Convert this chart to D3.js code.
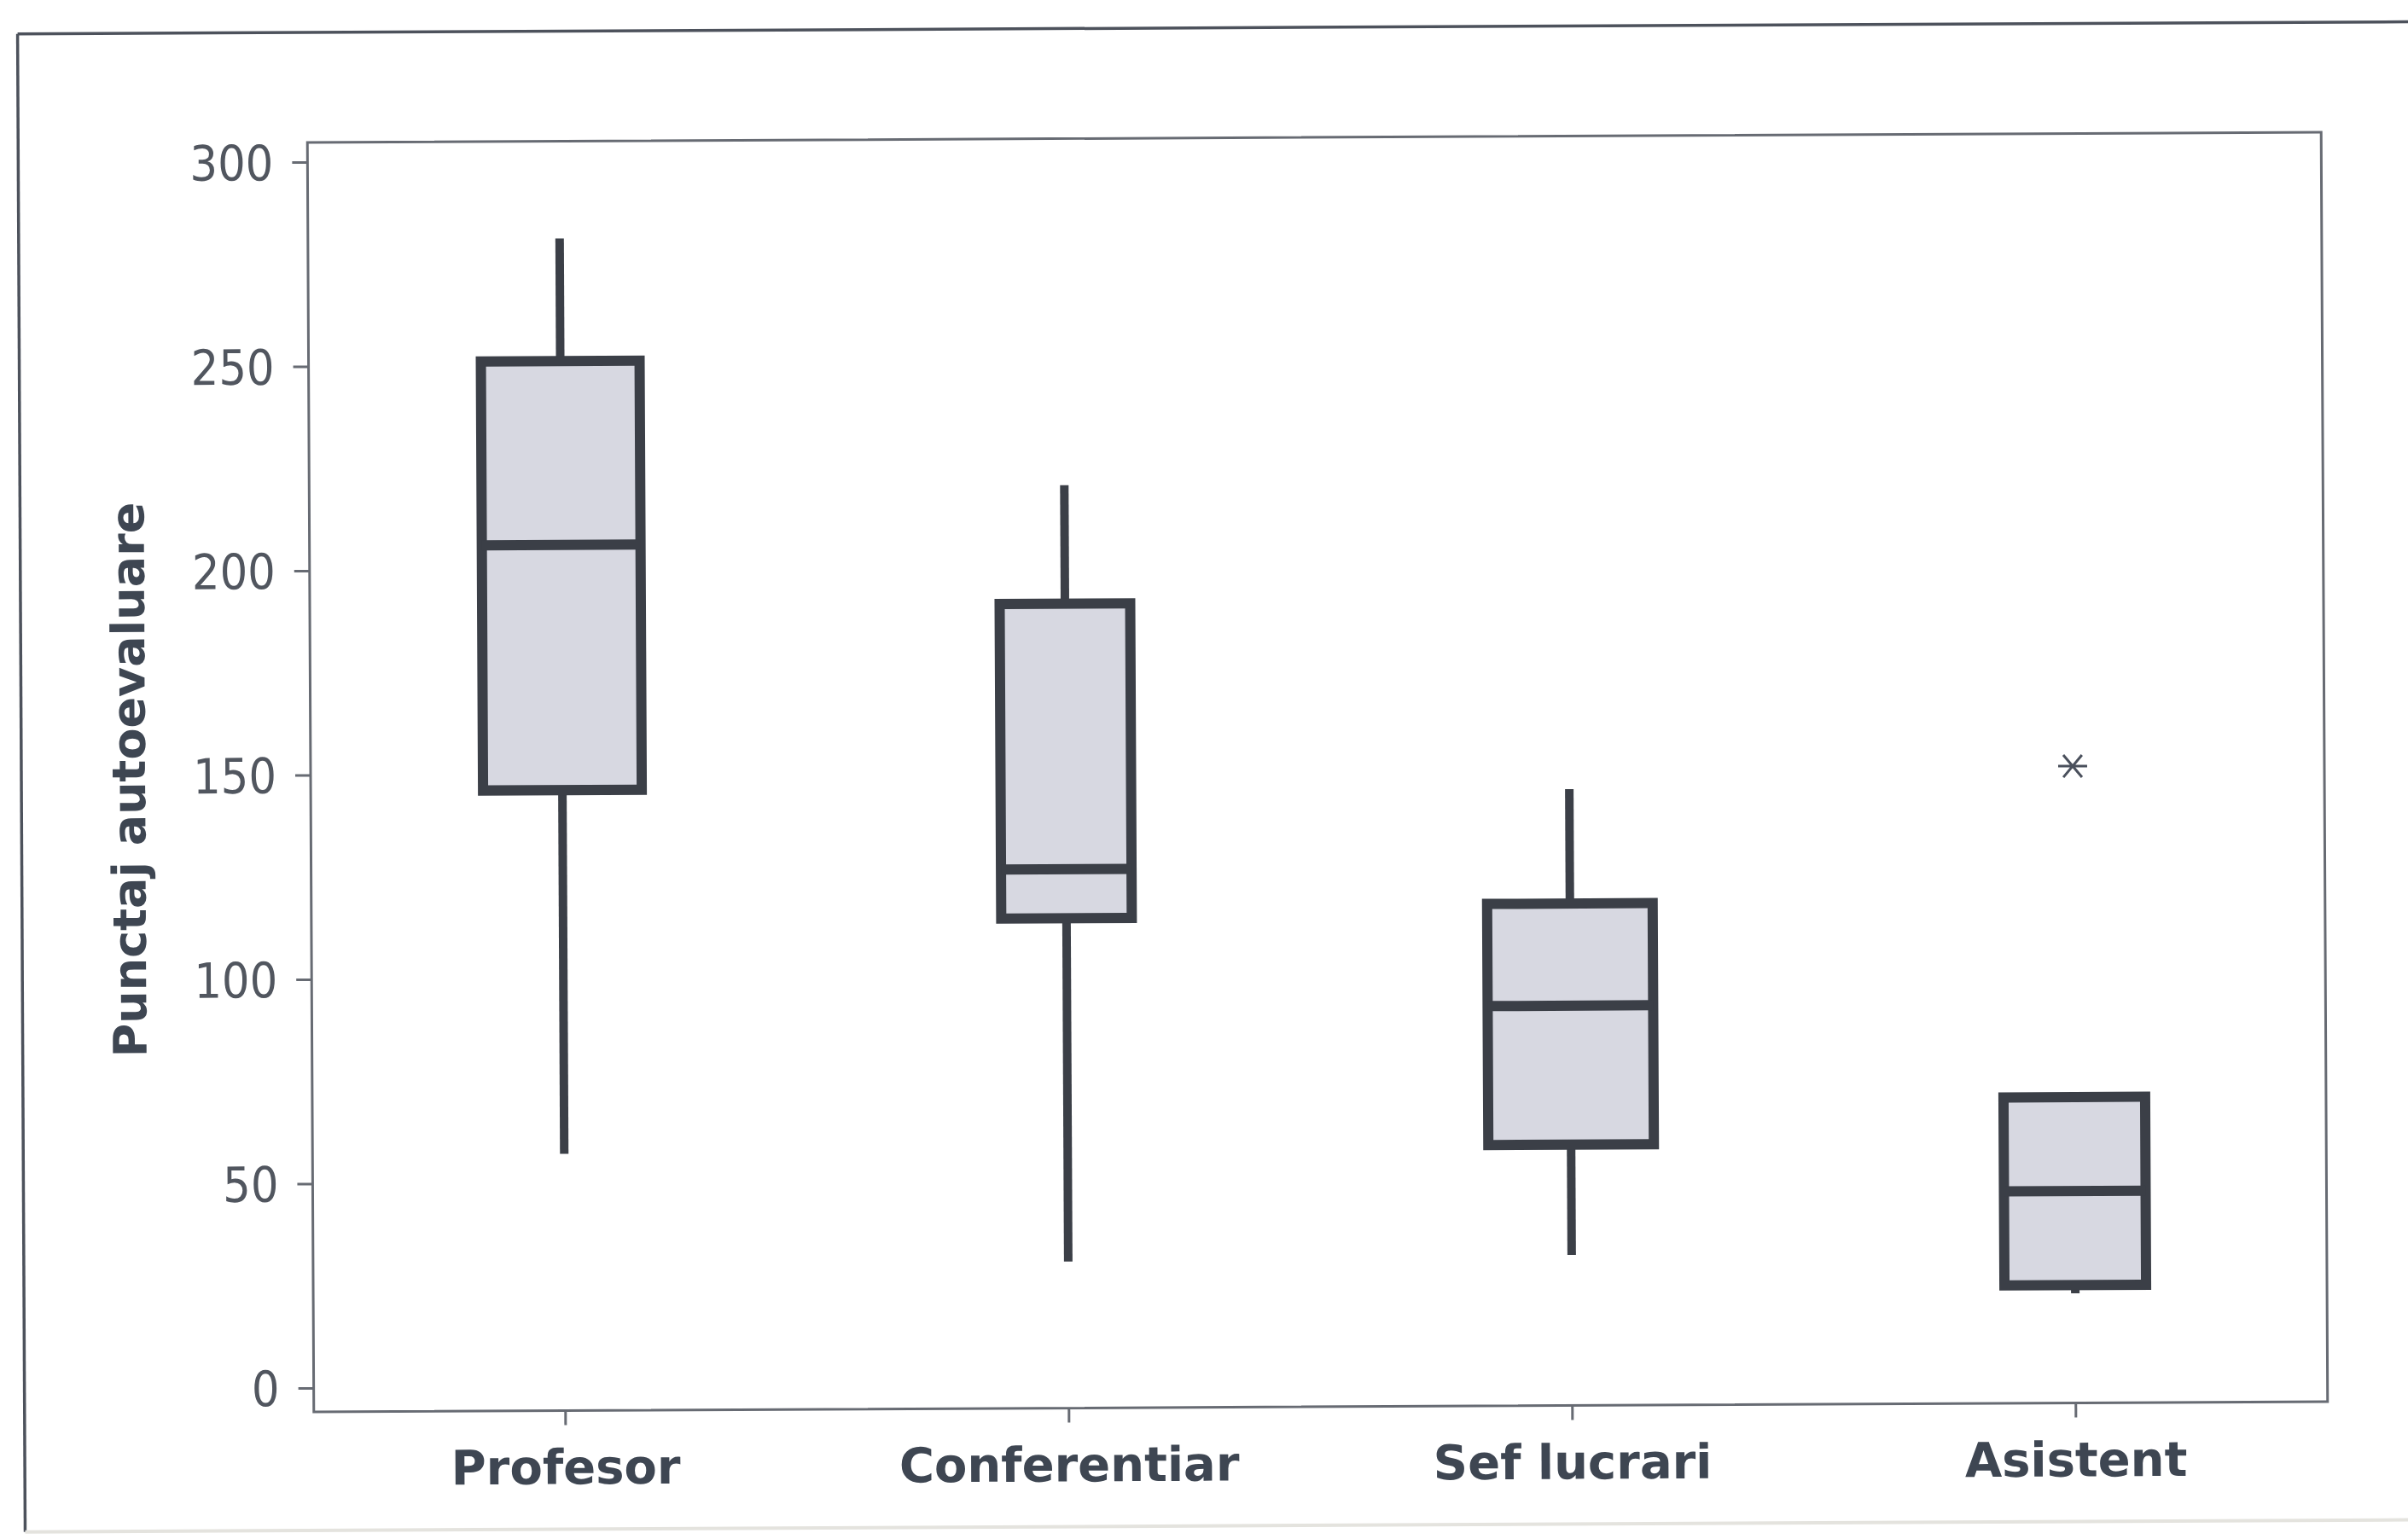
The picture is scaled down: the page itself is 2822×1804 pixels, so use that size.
<!DOCTYPE html>
<html>
<head>
<meta charset="utf-8">
<script src="https://cdn.jsdelivr.net/npm/d3@7"></script>
<style>
  html, body { margin: 0; padding: 0; background: #ffffff; }
  svg { display: block; }
</style>
</head>
<body>
<svg id="chart" width="2822" height="1804"></svg>
<script>
// ---- data ----
const categories   = ["Profesor", "Conferentiar", "Sef lucrari", "Asistent"];
const whiskerLow   = [57, 30, 31, 21];
const q1Values     = [146, 114, 58, 23];
const medianValues = [206, 126, 92, 46];
const q3Values     = [251, 191, 117, 69];
const whiskerHigh  = [281, 220, 145, 69];
const outlierCategories = ["Asistent"];
const outlierValues     = [150];
const yTicks = [0, 50, 100, 150, 200, 250, 300];
const yTitle = "Punctaj autoevaluare";

// ---- layout / style ----
const W = 2822, H = 1804;
const plot = { left: 364, right: 2724, top: 161, bottom: 1649 };
const boxWidths = [186, 153, 194, 166];
const ink = "#3b3f47";
const boxFill = "#d7d8e1";

const svg = d3.select("#chart");
svg.append("rect").attr("width", W).attr("height", H).attr("fill", "#ffffff");

// the scanned figure is tilted slightly
const root = svg.append("g").attr("transform", "rotate(-0.29, 1544, 905)");

// outer frame: dark left and top edges, faint bottom edge, right edge off the page
root.append("line").attr("x1", 25).attr("y1", 32).attr("x2", 3000).attr("y2", 32)
  .attr("stroke", "#4d525c").attr("stroke-width", 3.5);
root.append("line").attr("x1", 25).attr("y1", 32).attr("x2", 25).attr("y2", 1788)
  .attr("stroke", "#4d525c").attr("stroke-width", 3.5);
root.append("line").attr("x1", 25).attr("y1", 1788).attr("x2", 3000).attr("y2", 1788)
  .attr("stroke", "#e4e3de").attr("stroke-width", 4);

const x = d3.scaleBand().domain(categories).range([plot.left, plot.right]).padding(0);
const y = d3.scaleLinear().domain([0, 300]).range([1621, 184]);

// plot frame
root.append("rect")
  .attr("x", plot.left).attr("y", plot.top)
  .attr("width", plot.right - plot.left).attr("height", plot.bottom - plot.top)
  .attr("fill", "none").attr("stroke", "#676b73").attr("stroke-width", 3);

// y axis
const yAxis = root.append("g")
  .attr("transform", `translate(${plot.left},0)`)
  .call(d3.axisLeft(y).tickValues(yTicks).tickSize(18).tickPadding(22));
yAxis.select(".domain").remove();
yAxis.selectAll(".tick line").attr("stroke", "#676b73").attr("stroke-width", 3);
yAxis.selectAll(".tick text")
  .attr("fill", "#51565f")
  .style("font-family", "'DejaVu Sans Condensed', 'Liberation Sans', sans-serif")
  .style("font-stretch", "condensed")
  .style("font-size", "57px")
  .attr("dy", "0.36em");

// x axis
const xAxis = root.append("g")
  .attr("transform", `translate(0,${plot.bottom})`)
  .call(d3.axisBottom(x).tickSize(17).tickPadding(0));
xAxis.select(".domain").remove();
xAxis.selectAll(".tick line").attr("stroke", "#676b73").attr("stroke-width", 3);
xAxis.selectAll(".tick text")
  .attr("fill", "#3e4652")
  .attr("y", 86).attr("dy", 0)
  .style("font-family", "'DejaVu Sans', Verdana, sans-serif")
  .style("font-weight", "bold")
  .style("font-size", "56px");

// y title
root.append("text")
  .attr("transform", "translate(170,907) rotate(-90)")
  .attr("text-anchor", "middle")
  .attr("fill", "#3e4652")
  .style("font-family", "'DejaVu Sans', sans-serif")
  .style("font-weight", "bold")
  .style("font-size", "54px")
  .text(yTitle);

// boxes
const rows = categories.map((c, i) => ({
  c, lo: whiskerLow[i], q1: q1Values[i], med: medianValues[i], q3: q3Values[i], hi: whiskerHigh[i], w: boxWidths[i]
}));
const cx = d => x(d.c) + x.bandwidth() / 2;

const g = root.append("g");
// whiskers
g.selectAll("line.wh-up").data(rows.filter(d => d.hi > d.q3)).join("line")
  .attr("x1", cx).attr("x2", cx)
  .attr("y1", d => y(d.q3)).attr("y2", d => y(d.hi))
  .attr("stroke", ink).attr("stroke-width", 10);
g.selectAll("line.wh-lo").data(rows.filter(d => d.lo < d.q1)).join("line")
  .attr("x1", cx).attr("x2", cx)
  .attr("y1", d => y(d.q1)).attr("y2", d => y(d.lo))
  .attr("stroke", ink).attr("stroke-width", 10);
// box body
g.selectAll("rect.box").data(rows).join("rect")
  .attr("x", d => cx(d) - d.w / 2)
  .attr("width", d => d.w)
  .attr("y", d => y(d.q3))
  .attr("height", d => y(d.q1) - y(d.q3))
  .attr("fill", boxFill)
  .attr("stroke", ink).attr("stroke-width", 12);
// median
g.selectAll("line.med").data(rows).join("line")
  .attr("x1", d => cx(d) - d.w / 2).attr("x2", d => cx(d) + d.w / 2)
  .attr("y1", d => y(d.med)).attr("y2", d => y(d.med))
  .attr("stroke", ink).attr("stroke-width", 12);

// outliers (asterisk)
const outliers = outlierCategories.map((c, i) => ({ c, v: outlierValues[i] }));
function asterisk(r) {
  const p = d3.path();
  p.moveTo(-r, 0); p.lineTo(r, 0);
  const a = 50 * Math.PI / 180;
  p.moveTo(-r * Math.cos(a), -r * Math.sin(a)); p.lineTo(r * Math.cos(a), r * Math.sin(a));
  p.moveTo(-r * Math.cos(a), r * Math.sin(a)); p.lineTo(r * Math.cos(a), -r * Math.sin(a));
  return p.toString();
}
g.selectAll("path.out").data(outliers).join("path")
  .attr("transform", d => `translate(${x(d.c) + x.bandwidth() / 2},${y(d.v)})`)
  .attr("d", asterisk(17))
  .attr("fill", "none").attr("stroke", "#4a505c").attr("stroke-width", 3);
</script>
</body>
</html>
